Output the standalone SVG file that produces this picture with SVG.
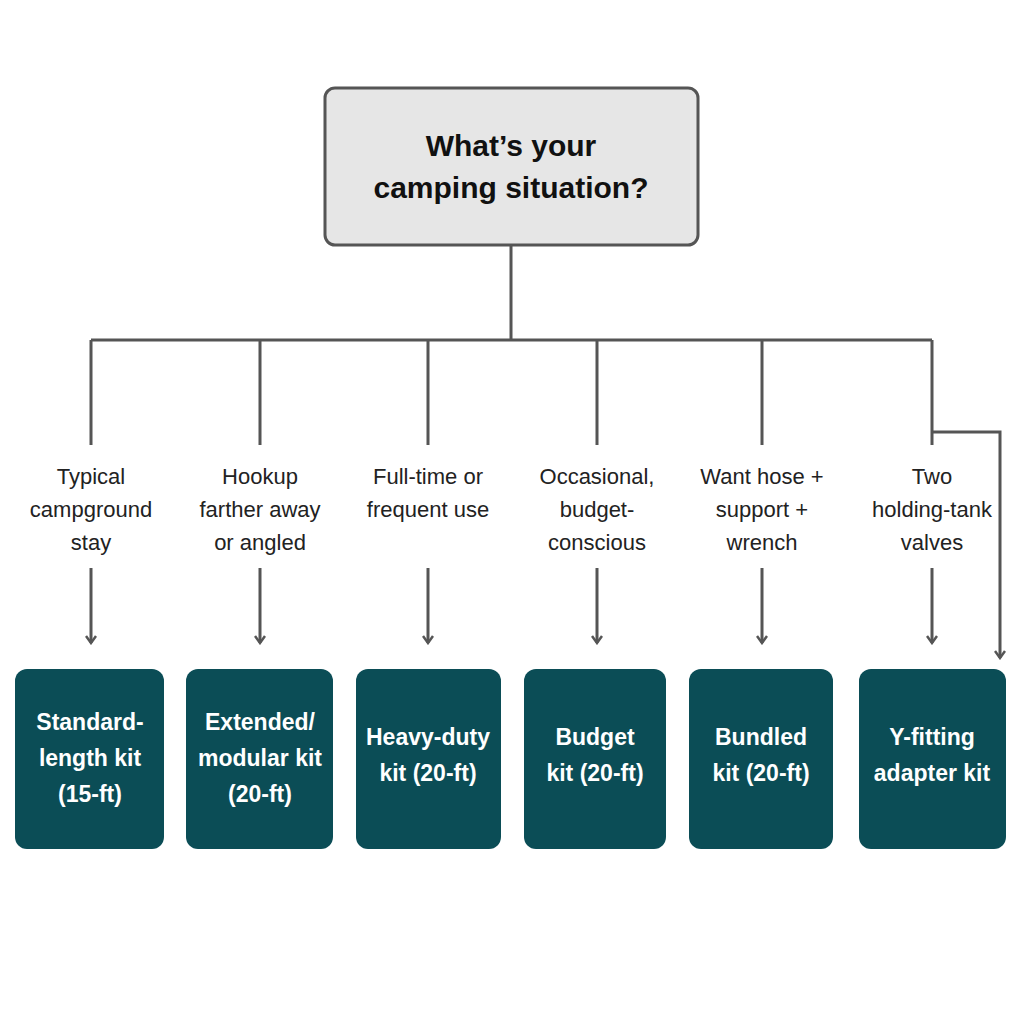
<svg xmlns="http://www.w3.org/2000/svg" width="1024" height="1024" viewBox="0 0 1024 1024">
<style>
.q{font-family:"Liberation Sans",Arial,sans-serif;font-weight:bold;font-size:30px;fill:#111;text-anchor:middle}
.l{font-family:"Liberation Sans",Arial,sans-serif;font-size:22px;fill:#222;text-anchor:middle}
.k{font-family:"Liberation Sans",Arial,sans-serif;font-weight:bold;font-size:23px;fill:#fff;text-anchor:middle}
.c{stroke:#555;stroke-width:3;fill:none}
.b{fill:#0b4d56}
</style>
<defs><marker id="a" viewBox="0 0 12 12" refX="10" refY="6" markerWidth="12" markerHeight="12" markerUnits="userSpaceOnUse" orient="auto"><path d="M3,1 L10,6 L3,11" fill="none" stroke="#555" stroke-width="2.5"/></marker></defs>
<rect width="1024" height="1024" fill="#fff"/>
<g id="root"><rect x="325" y="88" width="373" height="157" rx="10" fill="#e6e6e6" stroke="#555" stroke-width="3"/>
<text class="q" x="511" y="156">What’s your</text><text class="q" x="511" y="198">camping situation?</text></g>
<g id="connectors">
<path class="c" d="M511,245V340M91,340H932M91,340V445M260,340V445M428,340V445M597,340V445M762,340V445M932,340V445"/>
<path class="c" d="M932,432H1000V658" marker-end="url(#a)"/>
<path class="c" d="M91,568V643" marker-end="url(#a)"/>
<path class="c" d="M260,568V643" marker-end="url(#a)"/>
<path class="c" d="M428,568V643" marker-end="url(#a)"/>
<path class="c" d="M597,568V643" marker-end="url(#a)"/>
<path class="c" d="M762,568V643" marker-end="url(#a)"/>
<path class="c" d="M932,568V643" marker-end="url(#a)"/>
</g>
<g id="labels">
<text class="l" x="91" y="484">Typical</text><text class="l" x="91" y="517">campground</text><text class="l" x="91" y="550">stay</text>
<text class="l" x="260" y="484">Hookup</text><text class="l" x="260" y="517">farther away</text><text class="l" x="260" y="550">or angled</text>
<text class="l" x="428" y="484">Full-time or</text><text class="l" x="428" y="517">frequent use</text>
<text class="l" x="597" y="484">Occasional,</text><text class="l" x="597" y="517">budget-</text><text class="l" x="597" y="550">conscious</text>
<text class="l" x="762" y="484">Want hose +</text><text class="l" x="762" y="517">support +</text><text class="l" x="762" y="550">wrench</text>
<text class="l" x="932" y="484">Two</text><text class="l" x="932" y="517">holding-tank</text><text class="l" x="932" y="550">valves</text>
</g>
<g id="n1"><rect class="b" x="15" y="669" width="149" height="180" rx="12"/><text class="k" x="90" y="730">Standard-</text><text class="k" x="90" y="766">length kit</text><text class="k" x="90" y="802">(15-ft)</text></g>
<g id="n2"><rect class="b" x="186" y="669" width="147" height="180" rx="12"/><text class="k" x="260" y="730">Extended/</text><text class="k" x="260" y="766">modular kit</text><text class="k" x="260" y="802">(20-ft)</text></g>
<g id="n3"><rect class="b" x="356" y="669" width="145" height="180" rx="12"/><text class="k" x="428" y="745">Heavy-duty</text><text class="k" x="428" y="781">kit (20-ft)</text></g>
<g id="n4"><rect class="b" x="524" y="669" width="142" height="180" rx="12"/><text class="k" x="595" y="745">Budget</text><text class="k" x="595" y="781">kit (20-ft)</text></g>
<g id="n5"><rect class="b" x="689" y="669" width="144" height="180" rx="12"/><text class="k" x="761" y="745">Bundled</text><text class="k" x="761" y="781">kit (20-ft)</text></g>
<g id="n6"><rect class="b" x="859" y="669" width="147" height="180" rx="12"/><text class="k" x="932" y="745">Y-fitting</text><text class="k" x="932" y="781">adapter kit</text></g>
</svg>
